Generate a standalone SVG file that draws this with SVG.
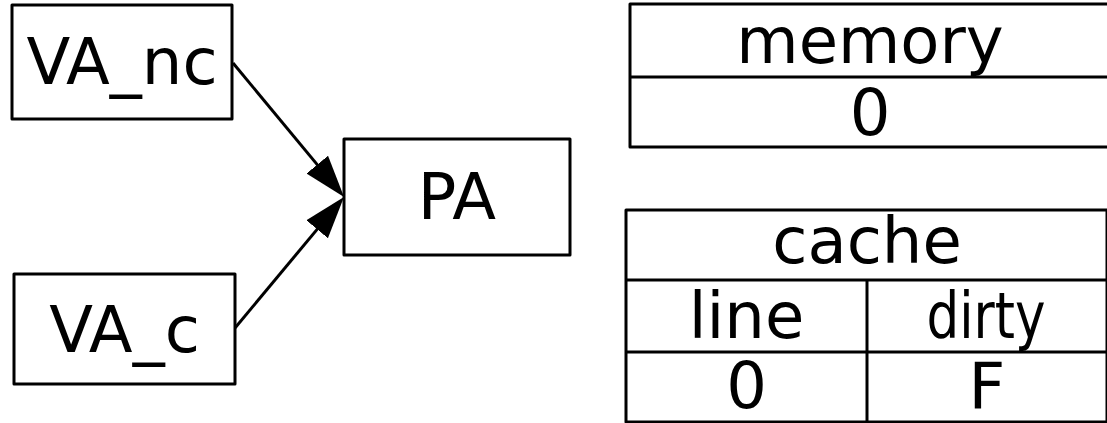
<svg xmlns="http://www.w3.org/2000/svg" width="1107" height="423" viewBox="0 0 1107 423">
<style>
.box{fill:#fff;stroke:#000;stroke-width:3;stroke-linejoin:round}
.ln{stroke:#000;stroke-width:3;fill:none}
.t{font-family:"DejaVu Sans",sans-serif;font-size:64px;fill:#000;text-anchor:middle}
</style>
<defs>
<marker id="ah" markerUnits="userSpaceOnUse" markerWidth="44" markerHeight="30" viewBox="0 -15 44 30" refX="12" refY="0" orient="auto">
<path d="M0,-14 L42,0 L0,14 z" fill="#000"/>
</marker>
</defs>
<rect width="1107" height="423" fill="#fff"/>
<g id="connectors">
<line class="ln" x1="233" y1="63" x2="324.9" y2="173.9" marker-end="url(#ah)"/>
<line class="ln" x1="235" y1="328" x2="324.8" y2="220.1" marker-end="url(#ah)"/>
</g>
<g id="VA_nc">
<rect class="box" x="12" y="5" width="220" height="114"/>
<text class="t" x="122" y="84">VA_nc</text>
</g>
<g id="VA_c">
<rect class="box" x="14" y="274" width="221" height="110"/>
<text class="t" x="124.5" y="352">VA_c</text>
</g>
<g id="PA">
<rect class="box" x="344" y="139" width="226" height="116"/>
<text class="t" x="457" y="219">PA</text>
</g>
<g id="memory">
<rect class="box" x="630" y="4" width="490" height="143"/>
<line class="ln" x1="630" y1="77" x2="1120" y2="77"/>
<text class="t" x="870" y="63">memory</text>
<text class="t" x="870" y="135">0</text>
</g>
<g id="cache">
<rect class="box" x="626" y="210" width="481" height="212"/>
<line class="ln" x1="626" y1="280" x2="1107" y2="280"/>
<line class="ln" x1="626" y1="352" x2="1107" y2="352"/>
<line class="ln" x1="867" y1="280" x2="867" y2="422"/>
<text class="t" x="867" y="263">cache</text>
<text class="t" x="746.5" y="338">line</text>
<text class="t" x="986" y="338" textLength="119" lengthAdjust="spacingAndGlyphs">dirty</text>
<text class="t" x="746.5" y="408">0</text>
<text class="t" x="987" y="408">F</text>
</g>
</svg>
